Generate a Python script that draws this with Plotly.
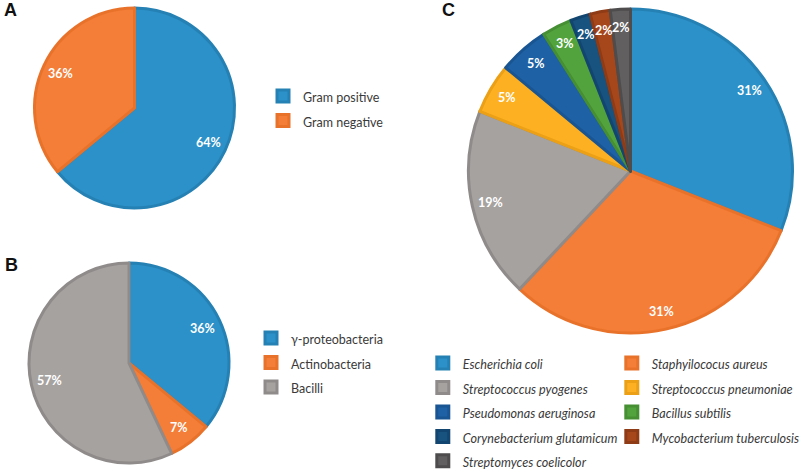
import math
import plotly.graph_objects as go

W, H = 800, 470

# ---------------- data ----------------
a_labels = ["Gram positive", "Gram negative"]
a_values = [64, 36]

b_labels = ["γ-proteobacteria", "Actinobacteria", "Bacilli"]
b_values = [36, 7, 57]

c_labels = ["Escherichia coli", "Staphyilococus aureus", "Streptococcus pyogenes",
            "Streptococcus pneumoniae", "Pseudomonas aeruginosa", "Bacillus subtilis",
            "Corynebacterium glutamicum", "Mycobacterium tuberculosis",
            "Streptomyces coelicolor"]
c_values = [31, 31, 19, 5, 5, 3, 2, 2, 2]

panel_letters = ["A", "B", "C"]

# ---------------- style ----------------
FILL = {"blue": "#2B91C8", "orange": "#F47D37", "gray": "#A6A2A0", "yellow": "#FDB022",
        "dblue": "#1E62A5", "green": "#52A33D", "navy": "#17537E", "brown": "#A6461B",
        "dgray": "#615F5F"}
EDGE = {"blue": "#2581B4", "orange": "#E9722B", "gray": "#8F8B8A", "yellow": "#EBA016",
        "dblue": "#195592", "green": "#468F33", "navy": "#124670", "brown": "#8F3B16",
        "dgray": "#4E4C4C"}
a_keys = ["blue", "orange"]
b_keys = ["blue", "orange", "gray"]
c_keys = ["blue", "orange", "gray", "yellow", "dblue", "green", "navy", "brown", "dgray"]

LABEL_FONT = dict(family="Lato, 'Open Sans', sans-serif", size=12.5, color="white")
LEG_FAMILY = "Lato, 'Open Sans', sans-serif"
LEG_COLOR = "#3A3A3A"

# pie geometry (pixels): centre x, centre y, radius
PIES = {
    "A": (134.5, 108.0, 100.0),
    "B": (129.0, 363.0, 100.0),
    "C": (630.5, 171.0, 162.0),
}


def domain(cx, cy, r):
    return dict(x=[(cx - r) / W, (cx + r) / W], y=[1 - (cy + r) / H, 1 - (cy - r) / H])


def leg_text(lbl, italic=False, size=12.5):
    t = f'<span style="font-size:{size}px">{lbl}</span>'
    return f"<i>{t}</i>" if italic else t


fig = go.Figure()

for key, labels, values, keys, leg, italic, lsize in [
    ("A", a_labels, a_values, a_keys, "legend", False, 12.5),
    ("B", b_labels, b_values, b_keys, "legend2", False, 12.5),
    ("C", c_labels, c_values, c_keys, "legend3", True, 12.6),
]:
    cx, cy, r = PIES[key]
    fig.add_trace(go.Pie(
        labels=[leg_text(l, italic, lsize) for l in labels],
        values=values,
        sort=False,
        direction="clockwise",
        rotation=0,
        textinfo="none",
        hoverinfo="label+percent",
        marker=dict(colors=[FILL[k] for k in keys],
                    line=dict(color=[EDGE[k] for k in keys], width=3)),
        domain=domain(cx, cy, r),
        legend=leg,
        showlegend=True,
    ))
    # percentage labels placed at the slice mid-angle
    total = sum(values)
    cum = 0.0
    dist = r + 1.5 - 20
    for v in values:
        mid = (cum + v / 2) / total * 2 * math.pi
        cum += v
        px = cx + dist * math.sin(mid)
        py = cy - dist * math.cos(mid)
        fig.add_annotation(x=px / W, y=1 - py / H, xref="paper", yref="paper",
                           text=f"<b>{round(v / total * 100)}%</b>", showarrow=False,
                           font=LABEL_FONT, xanchor="center", yanchor="middle")

# panel letters
for letter, (lx, ly) in zip(panel_letters, [(2, 10), (3, 265), (440, 10)]):
    fig.add_annotation(x=lx / W, y=1 - ly / H, xref="paper", yref="paper", text=f"<b>{letter}</b>",
                       showarrow=False, xanchor="left", yanchor="middle",
                       font=dict(family="Liberation Sans, Arial, sans-serif", size=18, color="#111111"))

LEG_SPACING_FONT = 16.5
fig.update_layout(
    width=W, height=H,
    margin=dict(l=0, r=0, t=0, b=0, pad=0, autoexpand=False),
    paper_bgcolor="white", plot_bgcolor="white",
    legend=dict(x=263 / W, xanchor="left", y=1 - 78.8 / H, yanchor="top", orientation="v",
                font=dict(family=LEG_FAMILY, size=LEG_SPACING_FONT, color=LEG_COLOR),
                bgcolor="rgba(0,0,0,0)"),
    legend2=dict(x=251 / W, xanchor="left", y=1 - 320.8 / H, yanchor="top", orientation="v",
                 font=dict(family=LEG_FAMILY, size=LEG_SPACING_FONT, color=LEG_COLOR),
                 bgcolor="rgba(0,0,0,0)"),
    legend3=dict(x=1.001, xanchor="right", y=1 - 345.8 / H, yanchor="top", orientation="h",
                 entrywidth=144, entrywidthmode="pixels",
                 font=dict(family=LEG_FAMILY, size=LEG_SPACING_FONT, color=LEG_COLOR),
                 bgcolor="rgba(0,0,0,0)"),
)

fig.write_html("out.html", config={"displayModeBar": False},
               post_script="document.body.style.margin='0px';")
